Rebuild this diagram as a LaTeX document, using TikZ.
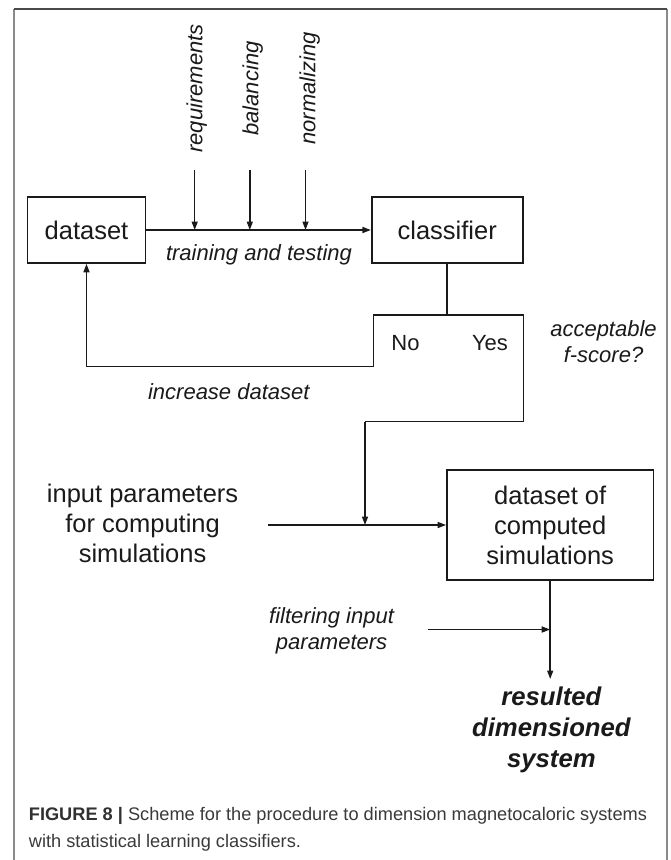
\documentclass[tikz,border=0pt]{standalone}
\usepackage{fontspec}
\setmainfont{Liberation Sans}
\usetikzlibrary{arrows.meta}
\definecolor{ink}{HTML}{1A1A1A}
\definecolor{frametop}{HTML}{4A4A4A}
\definecolor{frameside}{HTML}{8A8A8A}
\definecolor{captxt}{HTML}{3A3A3A}
\begin{document}
\begin{tikzpicture}[x=1pt,y=-1pt,
  box/.style={draw=ink,line width=1.6pt,inner sep=0pt},
  wire/.style={draw=ink,line width=1.5pt},
  arr/.style={wire,-{Triangle[length=8.5pt,width=6pt]}},
  bigtxt/.style={font=\fontsize{25.5}{30}\selectfont,text=ink,align=center,inner sep=0pt},
  note/.style={font=\fontsize{22}{26}\selectfont\itshape,text=ink,align=center,inner sep=0pt},
  plain/.style={font=\fontsize{22}{26}\selectfont,text=ink,inner sep=0pt},
  outcome/.style={font=\fontsize{25.7}{31}\selectfont\bfseries\itshape,text=ink,align=center,inner sep=0pt},
  captext/.style={font=\fontsize{18.2}{27}\selectfont,text=captxt,align=left,inner sep=0pt}]

\useasboundingbox (0,0) rectangle (670,860);
\fill[white] (0,0) rectangle (670,860);

% open figure frame
\draw[frameside,line width=1.5pt] (14,860) -- (14,9);
\draw[frameside,line width=1.5pt] (667,9) -- (667,860);
\draw[frametop,line width=1.5pt] (14,9) -- (667,9);

% main boxes
\node[box,bigtxt,minimum width=118.3pt,minimum height=66pt] (dataset) at (86.5,230) {dataset};
\node[box,bigtxt,minimum width=151pt,minimum height=66pt] (classifier) at (447.2,230) {classifier};
\node[box,bigtxt,minimum width=206.6pt,minimum height=110pt] (sim) at (550.2,525) {dataset of\\computed\\simulations};

% preprocessing inputs
\node[note,rotate=90] (req) at (196.7,88.5) {requirements};
\node[note,rotate=90] (bal) at (252.6,88.5) {balancing};
\node[note,rotate=90] (norm) at (309.6,88.5) {normalizing};
\coordinate (r1) at (194.7,170);
\coordinate (r2) at (249.8,170);
\coordinate (r3) at (305.5,170);

\draw[arr] (dataset.east) -- (classifier.west);
\draw[arr] (r1) -- (r1 |- dataset.east);
\draw[arr] (r2) -- (r2 |- dataset.east);
\draw[arr] (r3) -- (r3 |- dataset.east);
\node[note] (train) at (259,255.3) {training and testing};

% decision on the f-score
\coordinate (tl) at (373.5,315);
\coordinate (tr) at (classifier.east |- tl);
\coordinate (nocorner) at (373.5,366.7);
\coordinate (yescorner) at (classifier.east |- 0,421.7);
\coordinate (yesdrop) at (365,421.7);
\coordinate (join) at (365,525);
\draw[wire] (classifier.south) -- (classifier.south |- tl);
\draw[wire,line cap=rect] (tl) -- (tr);
\draw[arr] (tl) -- (nocorner) -| (dataset.south);
\draw[wire,line join=miter] (tr) -- (yescorner) -- (yesdrop);
\draw[arr] (yesdrop) -- (join);
\node[plain] (no) at (405.5,343.3) {No};
\node[plain] (yes) at (490,343.3) {Yes};
\node[note] (accept) at (603.5,341.5) {acceptable\\f-score?};
\node[note] (incr) at (228.8,391.7) {increase dataset};

% simulations
\node[bigtxt] (input) at (142.6,523.8) {input parameters\\for computing\\simulations};
\coordinate (inStart) at (267.8,525);
\draw[arr] (inStart) -- (sim.west);

\node[note] (filter) at (331.6,630.6) {filtering input\\parameters};
\coordinate (fStart) at (427.6,629.5);
\coordinate (rEnd) at (sim.south |- 0,679);
\draw[arr] (sim.south) -- (rEnd);
\draw[arr] (fStart) -- (sim.south |- fStart);
\node[outcome] (result) at (551.4,729.5) {resulted\\dimensioned\\system};

% caption
\node[captext,anchor=west] (caption) at (28.7,829.3)
  {\textcolor{ink!90}{\textbf{FIGURE 8 |}} Scheme for the procedure to dimension magnetocaloric systems\\with statistical learning classifiers.};
\end{tikzpicture}
\end{document}
